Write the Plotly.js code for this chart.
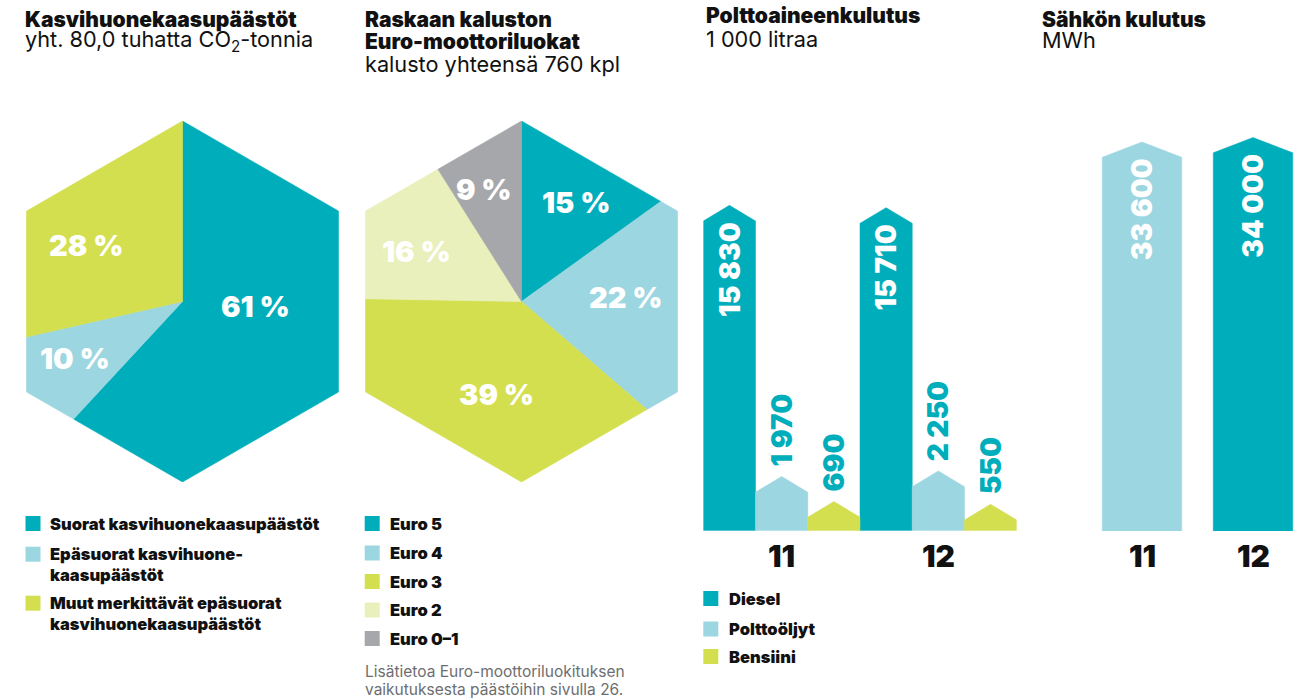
<!DOCTYPE html>
<html>
<head>
<meta charset="utf-8">
<script src="https://cdn.plot.ly/plotly-3.0.1.min.js"></script>
<style>html,body{margin:0;padding:0;background:#fff;}#chart{width:1294px;height:699px;}</style>
</head>
<body>
<div id="chart"></div>
<script>
// ---------------- DATA ----------------
const ghgCategories = ['Suorat kasvihuonekaasupäästöt', 'Epäsuorat kasvihuone-<br>kaasupäästöt', 'Muut merkittävät epäsuorat<br>kasvihuonekaasupäästöt'];
const ghgShares = [61, 10, 28];
const euroCategories = ['Euro 5', 'Euro 4', 'Euro 3', 'Euro 2', 'Euro 0–1'];
const euroShares = [15, 22, 39, 16, 9];
const fuelYears = ['11', '12'];
const fuelSeries = ['Diesel', 'Polttoöljyt', 'Bensiini'];
const dieselValues = [15830, 15710];
const heatingOilValues = [1970, 2250];
const petrolValues = [690, 550];
const elecYears = ['11', '12'];
const elecValues = [33600, 34000];

// ---------------- STYLE ----------------
const W = 1294, H = 699;
const TEAL = '#00aebb', LBLUE = '#9cd6e0', YEL = '#d4df50', PALE = '#e9f0bc', GRAY = '#a6a7ab';
const ghgColors = [TEAL, LBLUE, YEL];
const euroColors = [TEAL, LBLUE, YEL, PALE, GRAY];
const fuelColors = [TEAL, LBLUE, YEL];
const elecColors = [LBLUE, TEAL];
const FONT = 'Inter, Roboto, "Open Sans", sans-serif';
const px = x => x / W;
const py = y => 1 - y / H;
const S = Math.sqrt(3) / 2;
const hexR = 180.5;
const hex1C = [182.5, 301.5], hex2C = [521.5, 301.5];
// label anchor offsets inside hexagons (units of hexagon radius)
const ghgLabelPos = [[0.404, -0.03], [-0.598, -0.313], [-0.537, 0.313]];
const euroLabelPos = [[0.304, 0.548], [0.579, 0.02], [-0.141, -0.514], [-0.583, 0.276], [-0.208, 0.623]];

const hexV = [[0, 1], [S, 0.5], [S, -0.5], [0, -1], [-S, -0.5], [-S, 0.5]];
function perim(f) {
  const u = f * 6; let i = Math.floor(u); if (i >= 6) i = 5; if (i < 0) i = 0;
  const t = u - i; const a = hexV[i], b = hexV[(i + 1) % 6];
  return [a[0] + (b[0] - a[0]) * t, a[1] + (b[1] - a[1]) * t];
}
function slicePoly(f0, f1) {
  const xs = [0], ys = [0];
  let p = perim(f0); xs.push(p[0]); ys.push(p[1]);
  let k = Math.floor(f0 * 6 + 1e-9) + 1;
  while (k / 6 < f1 - 1e-9) { const v = hexV[k % 6]; xs.push(v[0]); ys.push(v[1]); k++; }
  p = perim(f1); xs.push(p[0]); ys.push(p[1]);
  xs.push(0); ys.push(0);
  return [xs, ys];
}

const traces = [];
const annotations = [];
const shapes = [];

function hexPie(shares, cats, colors, xa, ya, labelPos) {
  const total = shares.reduce((a, b) => a + b, 0);
  let acc = 0;
  shares.forEach((v, i) => {
    const f0 = acc / total, f1 = (acc + v) / total; acc += v;
    const [xs, ys] = slicePoly(f0, f1);
    traces.push({
      type: 'scatter', mode: 'lines', x: xs, y: ys, xaxis: xa, yaxis: ya,
      fill: 'toself', fillcolor: colors[i], line: {color: colors[i], width: 0.6},
      name: cats[i].replace('<br>', ''), text: v + ' %', hoverinfo: 'name+text', showlegend: false
    });
    annotations.push({
      xref: xa, yref: ya, x: labelPos[i][0], y: labelPos[i][1], text: v + '\u00a0%', showarrow: false,
      xanchor: 'center', yanchor: 'middle', font: {family: FONT, size: 29, color: '#fff', weight: 900}
    });
  });
}
hexPie(ghgShares, ghgCategories, ghgColors, 'x', 'y', ghgLabelPos);
hexPie(euroShares, euroCategories, euroColors, 'x2', 'y2', euroLabelPos);

const fmt = v => String(v).replace(/\B(?=(\d{3})+(?!\d))/g, ' ');

// fuel bars
const fuelRangeTop = 17380, fuelDomPx = 340, fuelTipPx = 15.7;
const fuelTip = fuelTipPx * fuelRangeTop / fuelDomPx;
const fuelData = [dieselValues, heatingOilValues, petrolValues];
fuelData.forEach((vals, s) => {
  vals.forEach((v, j) => {
    const xc = j * 3 + s, hw = 0.5;
    traces.push({
      type: 'scatter', mode: 'lines', xaxis: 'x3', yaxis: 'y3',
      x: [xc - hw, xc - hw, xc, xc + hw, xc + hw, xc - hw],
      y: [0, v, v + fuelTip, v, 0, 0],
      fill: 'toself', fillcolor: fuelColors[s], line: {color: fuelColors[s], width: 0.5},
      name: fuelSeries[s] + ' ' + fuelYears[j], text: fmt(v), hoverinfo: 'name+text', showlegend: false
    });
    if (s === 0) {
      annotations.push({xref: 'x3', yref: 'y3', x: xc, y: v, yshift: 0, text: fmt(v), textangle: -90,
        showarrow: false, xanchor: 'center', yanchor: 'top', borderpad: 0, font: {family: FONT, size: 28, color: '#fff', weight: 900}});
    } else {
      annotations.push({xref: 'x3', yref: 'y3', x: xc, y: v, yshift: fuelTipPx + 9, text: fmt(v), textangle: -90,
        showarrow: false, xanchor: 'center', yanchor: 'bottom', borderpad: 0, font: {family: FONT, size: 28, color: TEAL, weight: 900}});
    }
  });
});
fuelYears.forEach((yr, j) => {
  annotations.push({xref: 'x3', yref: 'paper', x: j * 3 + 1, y: py(555.5), text: yr, showarrow: false,
    xanchor: 'center', yanchor: 'middle', font: {family: FONT, size: 30, color: '#111', weight: 900}});
});

// electricity bars
const elecRangeTop = 36863, elecDomPx = 410, elecTipPx = 15.3;
const elecTip = elecTipPx * elecRangeTop / elecDomPx;
elecValues.forEach((v, j) => {
  const hw = 0.358;
  traces.push({
    type: 'scatter', mode: 'lines', xaxis: 'x4', yaxis: 'y4',
    x: [j - hw, j - hw, j, j + hw, j + hw, j - hw],
    y: [0, v, v + elecTip, v, 0, 0],
    fill: 'toself', fillcolor: elecColors[j], line: {color: elecColors[j], width: 0.5},
    name: 'Sähkö ' + elecYears[j], text: fmt(v) + ' MWh', hoverinfo: 'name+text', showlegend: false
  });
  annotations.push({xref: 'x4', yref: 'y4', x: j, y: v, yshift: 0, text: fmt(v), textangle: -90,
    showarrow: false, xanchor: 'center', yanchor: 'top', borderpad: 0, font: {family: FONT, size: 28, color: '#fff', weight: 900}});
  annotations.push({xref: 'x4', yref: 'paper', x: j, y: py(555.5), text: elecYears[j], showarrow: false,
    xanchor: 'center', yanchor: 'middle', font: {family: FONT, size: 30, color: '#111', weight: 900}});
});

// titles
function txt(x, y, text, size, weight, color, extra) {
  annotations.push(Object.assign({xref: 'paper', yref: 'paper', x: px(x), y: py(y), text: text, showarrow: false,
    xanchor: 'left', yanchor: 'middle', align: 'left', borderpad: 0,
    font: {family: FONT, size: size, color: color || '#111', weight: weight}}, extra || {}));
}
txt(24, 19.5, 'Kasvihuonekaasupäästöt', 21, 900);
txt(24, 41, 'yht. 80,0 tuhatta CO<sub>2</sub>-tonnia', 21.7, 400);
txt(364, 20, 'Raskaan kaluston', 21, 900);
txt(364, 41, 'Euro-moottoriluokat', 21, 900);
txt(364, 64, 'kalusto yhteensä 760 kpl', 21.7, 400);
txt(705, 16, 'Polttoaineenkulutus', 21, 900);
txt(705, 39.5, '1 000 litraa', 21.7, 400);
txt(1041, 19.7, 'Sähkön kulutus', 21, 900);
txt(1041, 40.5, 'MWh', 21.7, 400);

// legends (swatches + labels)
function legendItem(sx, sy, color, tx, ty, label) {
  shapes.push({type: 'rect', xref: 'paper', yref: 'paper', x0: px(sx), x1: px(sx + 15), y0: py(sy + 15), y1: py(sy),
    fillcolor: color, line: {width: 0}});
  txt(tx, ty, label, 16.5, 900, '#111');
}
const ghgLegTop = [516, 546.7, 595.7], ghgLegTextY = [523.5, 564.5, 613.5];
ghgCategories.forEach((c, i) => legendItem(25.5, ghgLegTop[i], ghgColors[i], 49, ghgLegTextY[i], c));
const euroLegTop = [516, 545.5, 574, 602.5, 631];
euroCategories.forEach((c, i) => legendItem(364.7, euroLegTop[i], euroColors[i], 388.5, euroLegTop[i] + 7.5, c));
const fuelLegTop = [591, 621.5, 649];
fuelSeries.forEach((c, i) => legendItem(703.3, fuelLegTop[i], fuelColors[i], 727.5, fuelLegTop[i] + 7.5, c));
txt(364, 671.5, 'Lisätietoa Euro-moottoriluokituksen', 15.5, 400, '#6d6e70');
txt(364, 689.5, 'vaikutuksesta päästöihin sivulla 26.', 15.5, 400, '#6d6e70');

const hidden = {visible: false, fixedrange: true};
const layout = {
  width: W, height: H, margin: {l: 0, r: 0, t: 0, b: 0},
  paper_bgcolor: '#ffffff', plot_bgcolor: 'rgba(0,0,0,0)',
  showlegend: false, hovermode: 'closest',
  xaxis: Object.assign({domain: [px(hex1C[0] - S * hexR), px(hex1C[0] + S * hexR)], range: [-S, S]}, hidden),
  yaxis: Object.assign({domain: [py(hex1C[1] + hexR), py(hex1C[1] - hexR)], range: [-1, 1]}, hidden),
  xaxis2: Object.assign({domain: [px(hex2C[0] - S * hexR), px(hex2C[0] + S * hexR)], range: [-S, S]}, hidden),
  yaxis2: Object.assign({domain: [py(hex2C[1] + hexR), py(hex2C[1] - hexR)], range: [-1, 1]}, hidden),
  xaxis3: Object.assign({domain: [px(703.3), px(1016.7)], range: [-0.5, 5.5]}, hidden),
  yaxis3: Object.assign({domain: [py(530.7), py(530.7 - fuelDomPx)], range: [0, fuelRangeTop]}, hidden),
  xaxis4: Object.assign({domain: [px(1086.5), 1], range: [-0.5, -0.5 + (W - 1086.5) / 111]}, hidden),
  yaxis4: Object.assign({domain: [py(531), py(531 - elecDomPx)], range: [0, elecRangeTop]}, hidden),
  annotations: annotations,
  shapes: shapes
};
Plotly.newPlot('chart', traces, layout, {displayModeBar: false});
</script>
</body>
</html>
